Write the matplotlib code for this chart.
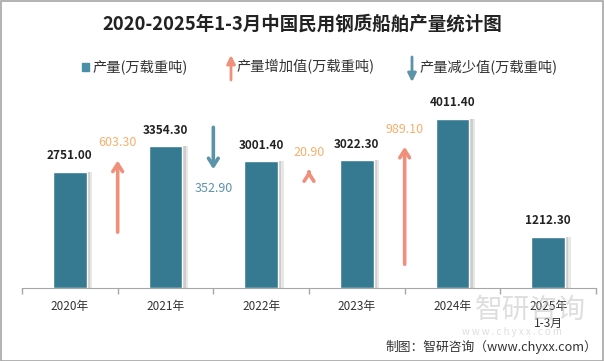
import matplotlib
matplotlib.use("Agg")
import matplotlib.pyplot as plt
from matplotlib.patches import Rectangle

plt.rcParams["font.family"] = ["Noto Sans CJK SC", "DejaVu Sans"]

# data
years = ["2020年", "2021年", "2022年", "2023年", "2024年", "2025年\n1-3月"]
output = [2751.00, 3354.30, 3001.40, 3022.30, 4011.40, 1212.30]
# year-on-year change between neighbours (sign = direction)
change = [603.30, -352.90, 20.90, 989.10]
# where each arrow starts on the secondary (arrow) axis
arrow_start = [470, 1353, 971, 200]

BAR = "#367a92"
UP = "#f0907a"
UP_TXT = "#f5b06c"
DOWN = "#5b93a8"

fig = plt.figure(figsize=(6.04, 3.61), dpi=100)
W, H = 604, 361
ax = fig.add_axes([22 / W, (H - 288) / H, (596 - 22) / W, 190 / H])
x = list(range(len(years)))

# soft shadow to the right of each bar (two layers fake a fade), then the bar
for off, a in [(0.06, 0.35), (0.035, 0.6)]:
    ax.bar([i + off for i in x], output, width=0.35, color="#bdbdbd", alpha=a,
           linewidth=0, zorder=1)
ax.bar(x, output, width=0.35, color=BAR, edgecolor="white", linewidth=1, zorder=2)
for i, v in enumerate(output):
    ax.annotate(f"{v:.2f}", (i, v), xytext=(0, 7), textcoords="offset points",
                ha="center", va="bottom", fontsize=8.5, fontweight="bold", color="#222222")

ax.set_xlim(-0.5, len(years) - 0.5)
ax.set_ylim(0, 4500)
ax.set_yticks([])
ax.set_xticks([i + 0.5 for i in range(-1, len(years))])
ax.set_xticklabels([])
ax.tick_params(axis="x", length=4, color="#a6a6a6", width=1)
for i, lab in enumerate(years):
    ax.text(i, -0.065, lab, transform=ax.get_xaxis_transform(), ha="center", va="top",
            fontsize=8.5, color="#333333", linespacing=1.35)
for s in ["top", "right", "left"]:
    ax.spines[s].set_visible(False)
ax.spines["bottom"].set_color("#a6a6a6")

# arrows live on their own scale, sitting on the gaps between bars
ax2 = ax.twinx()
ax2.set_ylim(0, 1600)
ax2.axis("off")
for k, (d, y0) in enumerate(zip(change, arrow_start)):
    xp = k + 0.5
    y1 = y0 + d
    col = UP if d > 0 else DOWN
    ax2.annotate("", xy=(xp, y1), xytext=(xp, y0),
                 arrowprops=dict(arrowstyle="->,head_length=0.55,head_width=0.35",
                                 color=col, lw=2.6, shrinkA=0, shrinkB=0))
    if d > 0:
        ax2.annotate(f"{d:.2f}", (xp, y1), xytext=(0, 8), textcoords="offset points",
                     ha="center", va="bottom", fontsize=9, color=UP_TXT)
    else:
        ax2.annotate(f"{-d:.2f}", (xp, y1), xytext=(0, -9), textcoords="offset points",
                     ha="center", va="top", fontsize=9, color=DOWN)

# title
fig.text(302 / W, 1 - 24 / H, "2020-2025年1-3月中国民用钢质船舶产量统计图",
         ha="center", va="center", fontsize=13.3, fontweight="bold", color="#222222")

# legend drawn by hand
ly = 1 - 67 / H
fig.patches.append(Rectangle((82 / W, ly - 3.5 / H), 7 / W, 7 / H, transform=fig.transFigure,
                             color="#4a8fa8"))
fig.text(93 / W, ly, "产量(万载重吨)", ha="left", va="center", fontsize=10.3, color="#333333")
fig.add_artist(plt.Annotation("", xy=(231 / W, 1 - 55 / H), xytext=(231 / W, 1 - 80 / H),
                              xycoords="figure fraction", textcoords="figure fraction",
                              arrowprops=dict(arrowstyle="-|>,head_length=0.5,head_width=0.25",
                                              color=UP, lw=2, shrinkA=0, shrinkB=0)))
fig.text(237 / W, ly, "产量增加值(万载重吨)", ha="left", va="center", fontsize=10.3, color="#333333")
fig.add_artist(plt.Annotation("", xy=(412 / W, 1 - 82 / H), xytext=(412 / W, 1 - 57 / H),
                              xycoords="figure fraction", textcoords="figure fraction",
                              arrowprops=dict(arrowstyle="-|>,head_length=0.5,head_width=0.25",
                                              color=DOWN, lw=2, shrinkA=0, shrinkB=0)))
fig.text(420 / W, ly, "产量减少值(万载重吨)", ha="left", va="center", fontsize=10.3, color="#333333")

# faint watermark + credit line
fig.text(530 / W, 1 - 310 / H, "智研咨询", ha="center", va="center", fontsize=20,
         color="#c4c4c4", alpha=0.55, zorder=0)
fig.text(512 / W, 1 - 332 / H, "w w w . c h y x x . c o m", ha="center", va="center",
         fontsize=7, color="#c4c4c4", alpha=0.55, zorder=0)
fig.text(597 / W, 1 - 347 / H, "制图：智研咨询（www.chyxx.com）", ha="right", va="center",
         fontsize=9.2, color="#333333")

# outer frame
fig.patches.append(Rectangle((0.5 / W, 0.5 / H), 1 - 1.5 / W, 1 - 1.5 / H, transform=fig.transFigure,
                             fill=False, edgecolor="#a6a6a6", linewidth=1.2))

fig.savefig("out.png", dpi=100)
